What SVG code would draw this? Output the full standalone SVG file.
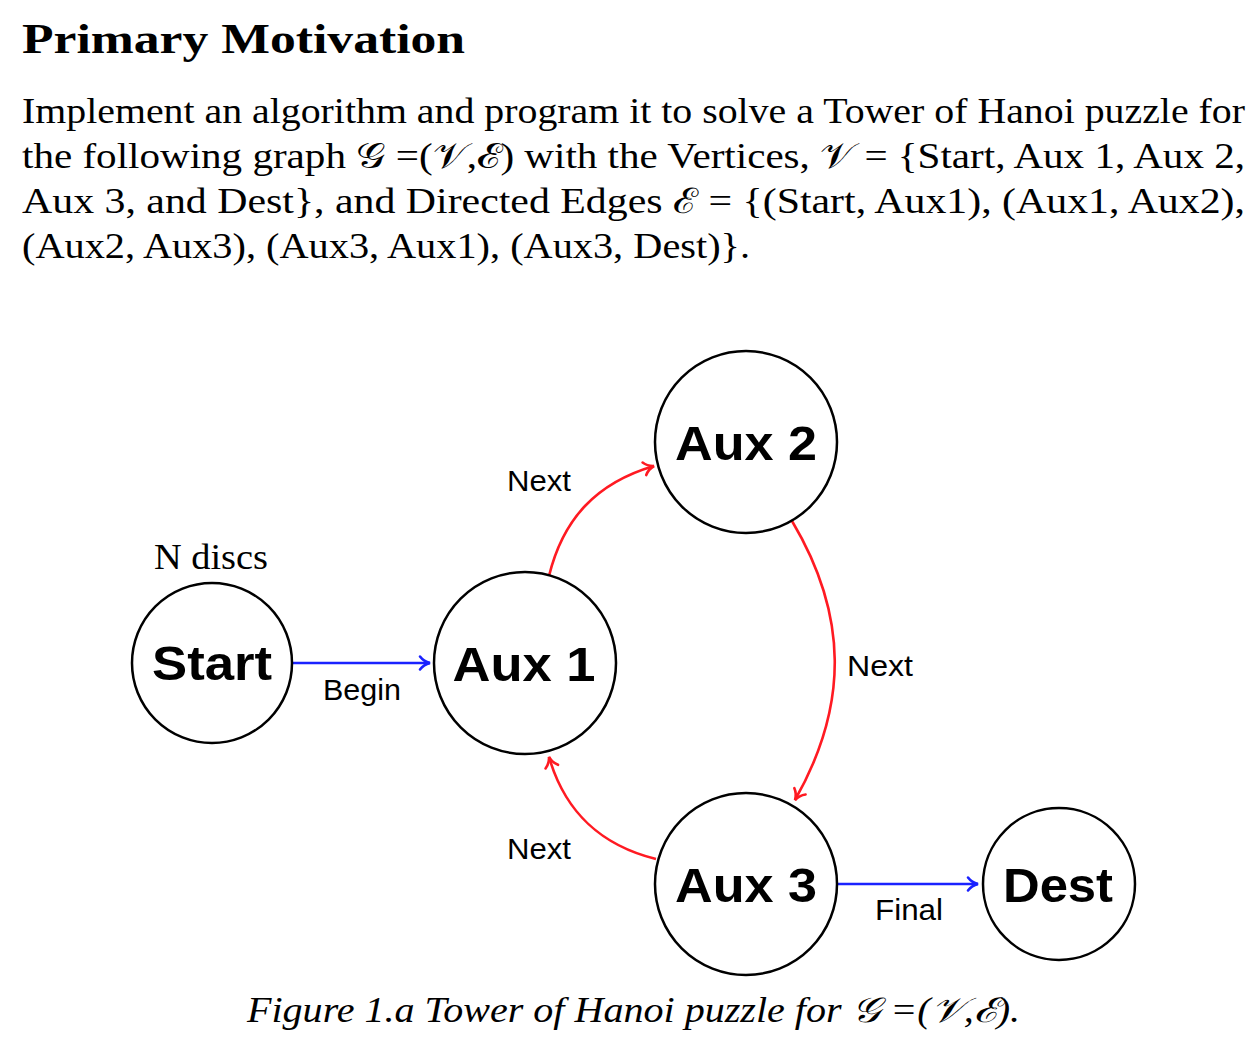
<svg xmlns="http://www.w3.org/2000/svg" width="1260" height="1040" viewBox="0 0 1260 1040">
<style>
.title{font-family:"Liberation Serif","DejaVu Serif",serif;font-weight:bold;font-size:42px;fill:#000}
.para{font-family:"Liberation Serif","DejaVu Serif",serif;font-size:35px;fill:#000}
.cap{font-family:"Liberation Serif","DejaVu Serif",serif;font-style:italic;font-size:35px;fill:#000}
.node{fill:#fff;stroke:#000;stroke-width:2.5}
.nlabel{font-family:"Liberation Sans","DejaVu Sans",sans-serif;font-weight:bold;font-size:48px;fill:#000;text-anchor:middle}
.elabel{font-family:"Liberation Sans","DejaVu Sans",sans-serif;font-size:30px;fill:#000}
.blue{fill:none;stroke:#1a22ff;stroke-width:2.6}
.red{fill:none;stroke:#ff1a22;stroke-width:2.6}
</style>
<defs>
<marker id="ab" markerUnits="userSpaceOnUse" markerWidth="24" markerHeight="24" viewBox="-12 -12 24 24" refX="0" refY="0" orient="auto" overflow="visible">
<path d="M-10,-6.5 C-7,-2.5 -2.5,-0.6 0,0 C-2.5,0.6 -7,2.5 -10,6.5" fill="none" stroke="#1a22ff" stroke-width="2.6" stroke-linecap="round"/>
</marker>
<marker id="ar" markerUnits="userSpaceOnUse" markerWidth="24" markerHeight="24" viewBox="-12 -12 24 24" refX="0" refY="0" orient="auto" overflow="visible">
<path d="M-10,-6.5 C-7,-2.5 -2.5,-0.6 0,0 C-2.5,0.6 -7,2.5 -10,6.5" fill="none" stroke="#ff1a22" stroke-width="2.6" stroke-linecap="round"/>
</marker>
</defs>
<rect width="1260" height="1040" fill="#fff"/>
<text class="title" x="22" y="53" textLength="443" lengthAdjust="spacingAndGlyphs">Primary Motivation</text>
<text class="para" x="22" y="123" textLength="1223" lengthAdjust="spacingAndGlyphs">Implement an algorithm and program it to solve a Tower of Hanoi puzzle for</text>
<text class="para" x="22" y="168" textLength="1223" lengthAdjust="spacingAndGlyphs">the following graph 𝒢 =(𝒱,ℰ) with the Vertices, 𝒱 = {Start, Aux 1, Aux 2,</text>
<text class="para" x="22" y="213" textLength="1223" lengthAdjust="spacingAndGlyphs">Aux 3, and Dest}, and Directed Edges ℰ = {(Start, Aux1), (Aux1, Aux2),</text>
<text class="para" x="22" y="258" textLength="728" lengthAdjust="spacingAndGlyphs">(Aux2, Aux3), (Aux3, Aux1), (Aux3, Dest)}.</text>
<g id="connectors">
<path id="e-start-aux1" class="blue" d="M292,663 L430,663" marker-end="url(#ab)"/>
<path id="e-aux1-aux2" class="red" d="M549,576 C563,519 596,483 654,466" marker-end="url(#ar)"/>
<path id="e-aux2-aux3" class="red" d="M792,521 C848,615 849,705 795,800" marker-end="url(#ar)"/>
<path id="e-aux3-aux1" class="red" d="M656,859 C600,845 565,812 549,757" marker-end="url(#ar)"/>
<path id="e-aux3-dest" class="blue" d="M837,884 L978,884" marker-end="url(#ab)"/>
<text class="elabel" x="323" y="700" textLength="78" lengthAdjust="spacingAndGlyphs">Begin</text>
<text class="elabel" x="507" y="491" textLength="64" lengthAdjust="spacingAndGlyphs">Next</text>
<text class="elabel" x="847" y="676" textLength="66" lengthAdjust="spacingAndGlyphs">Next</text>
<text class="elabel" x="507" y="859" textLength="64" lengthAdjust="spacingAndGlyphs">Next</text>
<text class="elabel" x="875" y="920" textLength="68" lengthAdjust="spacingAndGlyphs">Final</text>
</g>
<g id="node-start">
<text class="para" x="154" y="569" textLength="114" lengthAdjust="spacingAndGlyphs">N discs</text>
<circle class="node" cx="212" cy="663" r="80"/>
<text class="nlabel" x="212" y="680" textLength="120" lengthAdjust="spacingAndGlyphs">Start</text>
</g>
<g id="node-aux1">
<circle class="node" cx="525" cy="663" r="91"/>
<text class="nlabel" x="524" y="681" textLength="143" lengthAdjust="spacingAndGlyphs">Aux 1</text>
</g>
<g id="node-aux2">
<circle class="node" cx="746" cy="442" r="91"/>
<text class="nlabel" x="746" y="460" textLength="142" lengthAdjust="spacingAndGlyphs">Aux 2</text>
</g>
<g id="node-aux3">
<circle class="node" cx="746" cy="884" r="91"/>
<text class="nlabel" x="746" y="902" textLength="142" lengthAdjust="spacingAndGlyphs">Aux 3</text>
</g>
<g id="node-dest">
<circle class="node" cx="1059" cy="884" r="76"/>
<text class="nlabel" x="1058" y="902" textLength="110" lengthAdjust="spacingAndGlyphs">Dest</text>
</g>
<text class="cap" x="247" y="1022" textLength="773" lengthAdjust="spacingAndGlyphs">Figure 1.a Tower of Hanoi puzzle for 𝒢 =(𝒱,ℰ).</text>
</svg>
